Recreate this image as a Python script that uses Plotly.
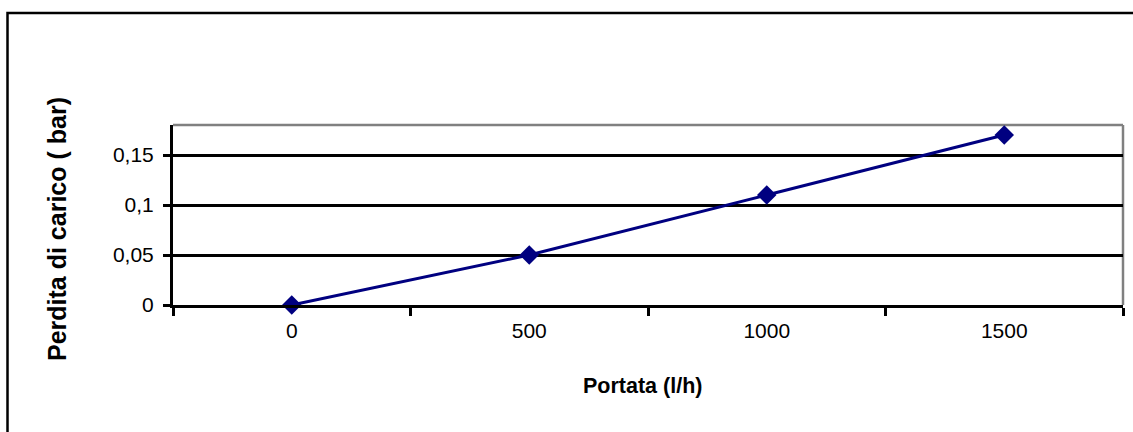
import plotly.graph_objects as go

# Data
portata = ["0", "500", "1000", "1500"]          # l/h (category axis)
perdita = [0, 0.05, 0.11, 0.17]                  # bar
y_ticks = [0, 0.05, 0.1, 0.15]
y_ticktext = ["0", "0,05", "0,1", "0,15"]

W, H = 1133, 432
L, R, T, B = 173, 10, 125, 127
pw, ph = W - L - R, H - T - B

def px_x(px):
    return (px - L) / pw

def px_y(py):
    return (H - B - py) / ph

fig = go.Figure()
fig.add_trace(go.Scatter(
    x=portata, y=perdita, mode="lines+markers",
    line=dict(color="#000080", width=3),
    marker=dict(symbol="diamond", size=15, color="#000080"),
    cliponaxis=False, showlegend=False,
))

fig.update_layout(
    width=W, height=H, autosize=False,
    margin=dict(l=L, r=R, t=T, b=B),
    paper_bgcolor="white", plot_bgcolor="white",
    separators=", ",
    font=dict(family="Liberation Sans, Arial, sans-serif", size=21, color="black"),
    xaxis=dict(
        type="category", categoryorder="array", categoryarray=portata,
        range=[-0.5, 3.5], tickson="boundaries",
        ticks="outside", ticklen=8, tickwidth=3, tickcolor="black",
        showline=True, linecolor="black", linewidth=3,
        showgrid=False, zeroline=False, ticklabelstandoff=5,
        tickfont=dict(size=21),
    ),
    yaxis=dict(
        range=[0, 0.18], tickvals=y_ticks, ticktext=y_ticktext,
        ticks="outside", ticklen=7, tickwidth=3, tickcolor="black",
        showline=True, linecolor="black", linewidth=3,
        showgrid=True, gridcolor="black", gridwidth=3,
        zeroline=False, ticklabelstandoff=5, tickfont=dict(size=21),
    ),
    shapes=[
        # plot area border (top and right, gray)
        dict(type="line", xref="paper", yref="paper", x0=0, x1=1, y0=1, y1=1,
             line=dict(color="#808080", width=2.5), layer="below"),
        dict(type="line", xref="paper", yref="paper", x0=1, x1=1, y0=0, y1=1,
             line=dict(color="#808080", width=2.5), layer="below"),
        # outer chart border (partially off page)
        dict(type="rect", xref="paper", yref="paper",
             x0=px_x(7.5), x1=px_x(1150), y0=px_y(13), y1=px_y(450),
             line=dict(color="black", width=2.5), fillcolor="rgba(0,0,0,0)"),
    ],
    annotations=[
        dict(text="<b>Perdita di carico ( bar)</b>", xref="paper", yref="paper",
             x=px_x(57), y=px_y(229), textangle=-90, showarrow=False,
             xanchor="center", yanchor="middle", font=dict(size=25)),
        dict(text="<b>Portata (l/h)</b>", xref="paper", yref="paper",
             x=px_x(642), y=px_y(386), showarrow=False,
             xanchor="center", yanchor="middle", font=dict(size=21.5)),
    ],
)

fig.write_html(
    "out.html",
    config={"displayModeBar": False},
    post_script="document.body.style.margin='0px';document.body.style.overflow='hidden';",
)
